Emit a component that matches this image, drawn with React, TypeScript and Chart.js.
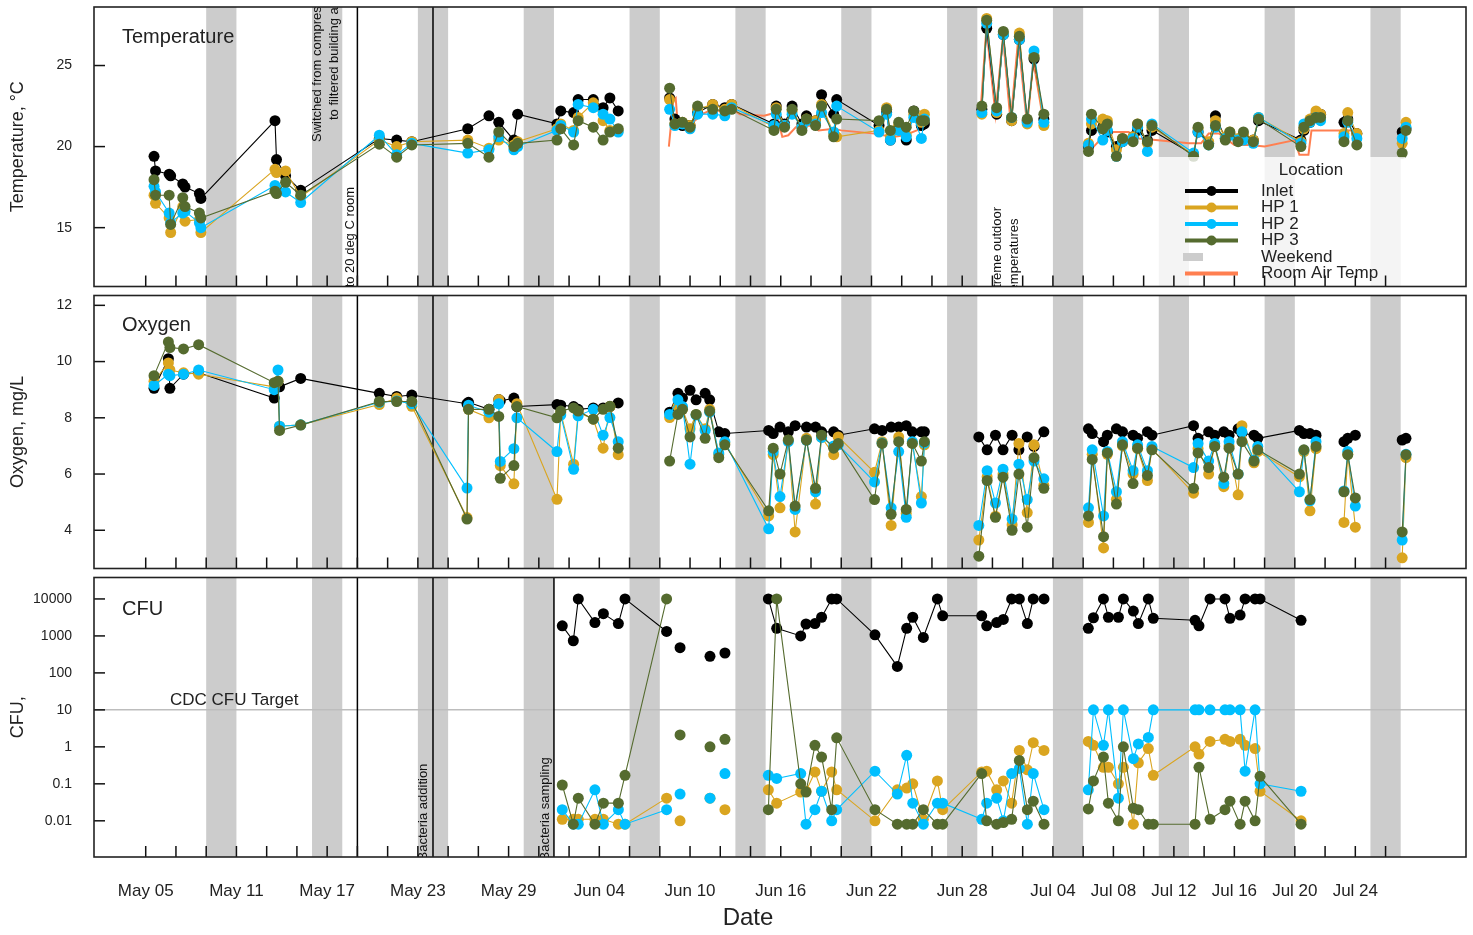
import React, { useEffect, useRef } from "react";
import { Chart, registerables } from "chart.js";
Chart.register(...registerables);

const FONT = "'Liberation Sans', Arial, Helvetica, sans-serif";
const C_INLET = "#000000";
const C_HP1 = "#DAA520";
const C_HP2 = "#00BFFF";
const C_HP3 = "#556B2F";
const C_ROOM = "#FF7F50";
const C_WEEKEND = "#CCCCCC";

// ---------- DATA (day number: May 1 = 1, Jun 1 = 32, Jul 1 = 62) ----------
const seriesNames = ["Inlet", "HP 1", "HP 2", "HP 3"];
const seriesColors = [C_INLET, C_HP1, C_HP2, C_HP3];

const tempDays = [5.55, 5.65, 6.55, 6.65, 7.45, 7.6, 8.55, 8.65, 13.55, 13.65, 14.25, 15.25, 20.45, 21.6, 22.6, 26.3, 27.7, 28.35, 29.35, 29.6, 32.2, 32.45, 33.3, 33.6, 34.6, 35.25, 35.7, 36.25, 38, 39.65, 40.0, 40.5, 41.0, 41.5, 42.5, 43.3, 43.75, 46.55, 46.7, 47.25, 47.75, 48.4, 48.7, 49.3, 49.7, 50.5, 50.7, 53.5, 54.0, 54.25, 54.8, 55.3, 55.8, 56.3, 56.5, 58.5, 60.3, 60.62, 61.28, 61.72, 62.27, 62.78, 63.3, 63.75, 64.4, 66, 67.35, 67.55, 68.3, 68.6, 69.2, 69.6, 70.3, 70.6, 71.25, 71.55, 74.3, 74.6, 75.3, 75.75, 76.4, 76.7, 77.25, 77.6, 78.25, 78.6, 81.4, 81.6, 82.0, 82.4, 82.7, 83.5, 84.25, 84.5, 85.1, 86.5, 88.1, 88.35];
const tempInlet = [19.4, 18.5, 18.3, 18.2, 17.7, 17.5, 17.1, 16.8, 21.6, 19.2, 18.2, 17.3, 20.5, 20.4, 20.3, 21.1, 21.9, 21.5, 20.4, 22.0, 21.4, 22.2, 22.1, 22.9, 22.9, 22.4, 23.0, 22.2, null, 23.0, 21.7, 21.3, 21.3, 22.1, 22.6, 22.4, 22.6, 21.4, 22.5, 21.4, 22.5, 21.4, 21.9, 21.6, 23.2, 22.0, 22.9, 21.3, 22.1, 20.4, 21.2, 20.4, 22.2, 21.3, 21.4, null, 22.3, 27.3, 22.0, 26.9, 21.6, 26.6, 21.6, 25.4, 21.7, null, 20.0, 21.0, 21.2, 20.9, 20.0, 20.3, 20.6, 21.0, 20.4, 21.0, 19.5, 20.9, 20.2, 21.9, 20.5, 20.8, 20.4, 20.6, 20.4, 21.6, 20.4, 21.0, 21.5, 22.0, 22.0, null, 21.5, 21.7, 20.8, null, 20.9, 21.1];
const tempHP1 = [17.0, 16.5, 15.6, 14.7, 16.3, 15.4, 15.5, 14.7, 18.6, 18.4, 18.5, 16.9, 20.4, 20.0, 20.3, 20.4, 19.9, 20.4, 20.1, 20.3, 21.1, 21.4, 21.0, 21.8, 22.7, 21.6, 21.0, 21.0, null, 22.9, 21.4, 21.5, 21.3, 22.3, 22.6, 22.3, 22.6, 21.2, 22.4, 21.3, 22.2, 21.2, 21.7, 21.6, 22.6, 20.8, 20.6, 21.0, 22.4, 20.6, 21.3, 20.7, 22.0, 21.5, 22.0, null, 22.0, 27.9, 22.1, 27.0, 21.6, 27.0, 21.4, 25.6, 21.3, null, 20.2, 21.4, 21.7, 21.6, 19.8, 20.5, 20.6, 21.4, 20.2, 21.2, 19.5, 21.1, 20.3, 21.6, 20.6, 20.9, 20.5, 20.7, 20.4, 21.8, 20.3, 21.1, 21.7, 22.2, 22.0, null, 20.8, 22.1, 20.8, null, 20.2, 21.5];
const tempHP2 = [17.55, 17.2, 15.9, 15.3, 15.9, 16.0, 15.3, 15.0, 17.6, 17.4, 17.2, 16.55, 20.7, 19.5, 20.2, 19.6, 19.8, 20.6, 19.8, 20.0, 21.0, 21.3, 20.9, 22.6, 22.4, 22.0, 21.7, 20.9, null, 22.3, 21.3, 21.4, 21.1, 22.0, 22.0, 21.9, 22.4, 21.3, 22.0, 21.3, 22.0, 21.2, 21.6, 21.4, 22.1, 20.9, 22.5, 20.9, 22.0, 20.4, 21.0, 20.6, 21.8, 20.5, 21.7, null, 22.1, 27.6, 22.2, 26.9, 21.8, 26.6, 21.5, 25.9, 21.5, null, 20.1, 21.7, 20.4, 21.0, 19.4, 20.3, 20.5, 21.2, 19.7, 21.4, 19.6, 20.9, 20.1, 21.2, 20.5, 20.7, 20.4, 20.4, 20.2, 21.8, 20.2, 21.4, 21.5, 21.8, 21.6, null, 20.6, 21.5, 20.5, null, 20.5, 21.2];
const tempHP3 = [17.96, 17.0, 17.0, 15.2, 16.85, 16.3, 15.9, 15.6, 17.25, 17.1, 17.8, 17.0, 20.15, 19.35, 20.1, 20.2, 19.35, 20.9, 20.0, 20.2, 20.4, 21.1, 20.1, 21.6, 21.2, 20.4, 20.9, 21.1, null, 23.6, 21.4, 21.5, 21.2, 22.5, 22.3, 22.2, 22.3, 21.0, 22.3, 21.2, 22.3, 21.0, 21.7, 21.3, 22.5, 20.6, 21.7, 21.6, 22.3, 21.0, 21.5, 21.2, 22.2, 21.6, 21.6, null, 22.5, 27.8, 22.4, 27.1, 21.8, 26.8, 21.7, 25.5, 22.0, null, 19.7, 22.0, 21.1, 21.4, 19.4, 20.5, 20.3, 21.4, 20.3, 21.3, 19.4, 21.2, 20.1, 21.3, 20.4, 20.9, 20.3, 20.9, 20.3, 21.7, 20.0, 21.2, 21.6, 21.8, 21.8, null, 20.3, 21.6, 20.1, null, 19.6, 21.0];

const roomAirDays = [39.6, 39.9, 40.05, 40.2, 40.6, 41.2, 41.8, 42.5, 43.3, 43.8, 44.3, 45.9, 46.7, 47.1, 47.5, 48.0, 49.0, 49.5, 50.5, 51.0, 53.2, 53.8, 54.5, 55.2, 56.0, 56.5, 58.5, 60.2, 60.6, 61.2, 61.7, 62.2, 62.7, 63.3, 63.7, 64.4, 66, 67.3, 67.7, 68.0, 69.0, 70.0, 70.7, 71.8, 74.0, 74.8, 75.3, 76.0, 77.0, 78.0, 79.0, 81.0, 81.3, 81.9, 82.1, 84.5, 85.2, 86.5, 88.0, 88.4];
const roomAirTemp = [20.0, 22.9, 23.0, 21.2, 21.6, 21.5, 22.0, 22.3, 22.1, 22.3, 22.0, 21.9, 22.1, 20.6, 20.7, 21.2, 21.3, 21.0, 21.1, 21.0, 20.8, 20.7, 20.6, 20.7, 21.0, 21.2, null, 22.0, 27.3, 22.0, 26.8, 21.5, 26.6, 21.3, 25.3, 21.4, null, 20.0, 20.0, 20.3, 20.9, 20.9, 20.5, 20.4, 20.2, 20.2, 20.8, 20.8, 20.1, 20.1, 20.0, 20.4, 19.5, 19.5, 21.0, 21.0, 21.0, null, 20.4, 20.4];

const oxyDays = [5.55, 6.5, 6.6, 7.5, 8.5, 13.5, 13.75, 13.85, 15.25, 20.45, 21.6, 22.6, 26.25, 26.35, 27.7, 28.35, 28.45, 29.35, 29.55, 32.2, 32.45, 33.3, 33.6, 34.6, 35.25, 35.7, 36.25, 38, 39.65, 40.2, 40.5, 41.0, 41.4, 42.0, 42.3, 42.9, 43.3, 46.2, 46.5, 46.95, 47.5, 47.95, 48.7, 49.3, 49.7, 50.5, 50.8, 53.2, 53.7, 54.3, 54.8, 55.3, 55.7, 56.3, 56.5, 58.5, 60.1, 60.65, 61.2, 61.7, 62.3, 62.75, 63.3, 63.75, 64.4, 66, 67.35, 67.6, 68.35, 68.6, 69.2, 69.6, 70.3, 70.6, 71.25, 71.55, 74.3, 74.6, 75.3, 75.7, 76.3, 76.65, 77.25, 77.5, 78.3, 78.55, 81.3, 81.6, 82.0, 82.4, 83.5, 84.25, 84.5, 85.0, 86.5, 88.1, 88.35];
const oxyInlet = [9.05, 10.1, 9.05, 9.55, 9.6, 8.7, 9.1, 9.1, 9.4, 8.87, 8.76, 8.81, 8.5, 8.55, 8.3, 8.65, 8.6, 8.7, 8.4, 8.47, 8.45, 8.4, 8.3, 8.35, 8.35, 8.4, 8.53, null, 8.2, 8.87, 8.7, 8.98, 8.64, 8.87, 8.64, 7.5, 7.44, 7.55, 7.44, 7.67, 7.5, 7.72, 7.67, 7.67, 7.5, 7.5, 7.38, 7.61, 7.55, 7.67, 7.67, 7.72, 7.5, 7.5, 7.5, null, 7.32, 6.86, 7.38, 6.86, 7.38, 6.86, 7.32, 6.98, 7.5, null, 7.61, 7.44, 7.15, 7.38, 7.61, 7.5, 7.38, 7.27, 7.5, 7.38, 7.72, 7.27, 7.5, 7.38, 7.5, 7.38, 7.61, 7.45, 7.38, 7.27, 7.55, 7.44, 7.44, 7.38, null, 7.15, 7.27, 7.38, null, 7.21, 7.27];
const oxyHP1 = [9.3, 9.95, 9.7, 9.6, 9.55, 9.1, 9.3, 7.7, 7.75, 8.47, 8.7, 8.41, 4.45, 8.3, 8.0, 8.65, 6.3, 5.65, 8.5, 5.1, 8.18, 6.35, 8.2, 7.95, 6.92, 8.4, 6.69, null, 8.01, 8.4, 8.3, 7.61, 8.12, 7.61, 8.3, 6.7, 7.1, 4.51, 6.69, 4.8, 7.2, 3.94, 7.27, 4.93, 7.3, 6.69, 7.32, 6.06, 7.15, 4.17, 7.32, 4.6, 7.1, 5.2, 7.04, null, 3.65, 5.9, 4.5, 6.0, 4.2, 7.09, 4.63, 7.04, 5.6, null, 4.28, 6.7, 3.37, 6.7, 5.1, 7.0, 6.0, 6.9, 5.77, 6.9, 5.32, 6.9, 6.0, 7.0, 5.55, 7.0, 5.26, 7.72, 6.4, 6.8, 5.9, 6.8, 4.69, 6.9, null, 4.28, 6.7, 4.11, null, 3.02, 6.58];
const oxyHP2 = [9.15, 9.55, 9.5, 9.55, 9.7, 9.0, 9.7, 7.7, 7.75, 8.55, 8.6, 8.5, 5.5, 8.45, 8.2, 8.5, 6.45, 6.9, 8.0, 6.8, 8.1, 6.17, 8.07, 8.3, 7.38, 8.01, 7.15, null, 8.12, 8.64, 8.4, 6.35, 8.1, 7.55, 8.2, 6.75, 7.15, 4.05, 6.8, 5.2, 7.15, 4.74, 7.2, 5.37, 7.3, 7.0, 7.04, 5.72, 7.1, 4.8, 6.8, 4.46, 7.15, 4.97, 7.1, null, 4.17, 6.12, 4.97, 6.17, 4.4, 6.35, 5.09, 6.46, 5.83, null, 4.8, 6.86, 4.51, 6.8, 5.37, 7.15, 6.12, 7.04, 6.12, 6.98, 6.23, 7.09, 6.46, 7.09, 5.66, 7.15, 6.0, 7.5, 6.5, 6.98, 5.37, 6.85, 5.05, 7.15, null, 5.4, 6.8, 4.86, null, 3.65, 6.7];
const oxyHP3 = [9.5, 10.7, 10.5, 10.45, 10.6, 9.25, 9.3, 7.55, 7.74, 8.58, 8.58, 8.58, 4.4, 8.3, 8.3, 8.05, 5.85, 6.3, 8.4, 8.0, 8.24, 8.35, 8.24, 7.95, 8.3, 8.41, 6.92, null, 6.46, 8.12, 8.3, 7.32, 8.12, 7.27, 8.24, 6.58, 7.04, 4.69, 6.92, 6.0, 7.21, 4.86, 7.21, 5.49, 7.38, 6.92, 7.09, 5.09, 7.09, 4.57, 7.15, 4.74, 7.09, 6.46, 7.15, null, 3.08, 5.77, 4.46, 5.89, 4.0, 6.0, 4.11, 6.58, 5.49, null, 4.51, 6.52, 3.77, 6.75, 4.93, 7.04, 5.66, 6.92, 5.95, 6.86, 5.49, 6.75, 6.23, 6.98, 5.89, 6.92, 6.0, 7.15, 6.46, 6.86, 6.0, 6.86, 5.09, 6.98, null, 5.37, 6.69, 5.15, null, 3.94, 6.69];

const cfuDays = [32.55, 33.28, 33.61, 34.71, 35.27, 36.26, 36.7, 39.45, 39.9, 40.34, 41.3, 42.32, 42.8, 43.31, 45, 46.18, 46.73, 48.32, 48.67, 49.26, 49.7, 50.37, 50.7, 53.23, 54.71, 55.33, 55.73, 56.43, 57.36, 57.71, 60.29, 60.62, 61.28, 61.72, 62.27, 62.78, 63.31, 63.7, 64.41, 66, 67.34, 67.68, 68.34, 68.67, 69.33, 69.66, 70.32, 70.65, 71.31, 71.64, 74.4, 74.66, 75.39, 76.38, 76.71, 77.38, 77.71, 78.37, 78.7, 81.41];
const cfuInlet = [1870, 740, 10000, 2300, 4000, 2150, 10000, 1320, null, 480, null, 280, null, 345, null, 10000, 1600, 1000, 2100, 2150, 3200, 10000, 10000, 1070, 150, 1600, 3200, 910, 10000, 3500, 3500, 1870, 2300, 2800, 10000, 10000, 2150, 10000, 10000, null, 1600, 3100, 10000, 3200, 3200, 10000, 4700, 2150, 10000, 3000, 2650, 1870, 10000, 10000, 3000, 3650, 10000, 10000, 10000, 2650];
const cfuHP1 = [0.011, 0.011, 0.011, 0.011, 0.011, 0.0081, 0.0081, 0.041, null, 0.01, null, 0.041, null, 0.02, null, 0.069, 0.03, 0.06, 0.063, 0.21, 0.063, 0.21, 0.069, 0.01, 0.069, 0.077, 0.1, 0.011, 0.12, 0.02, 0.21, 0.22, 0.069, 0.12, 0.03, 0.8, 0.24, 1.3, 0.8, null, 1.4, 1.1, 0.28, 0.28, 0.1, 0.28, 0.0081, 0.37, 0.9, 0.17, 1.0, 0.64, 1.4, 1.6, 1.4, 1.6, 1.1, 0.9, 0.063, 0.01];
const cfuHP2 = [0.02, 0.0081, 0.0081, 0.069, 0.0081, 0.02, 0.0081, 0.02, null, 0.053, null, 0.041, null, 0.19, null, 0.17, 0.14, 0.19, 0.0081, 0.02, 0.063, 0.01, 0.02, 0.22, 0.053, 0.59, 0.03, 0.0081, 0.03, 0.03, 0.011, 0.03, 0.041, 0.01, 0.19, 0.26, 0.0081, 0.19, 0.02, null, 0.069, 10, 1.1, 10, 0.041, 10, 0.48, 1.2, 1.8, 10, 10, 10, 10, 10, 10, 10, 0.22, 10, 0.1, 0.063];
const cfuHP3 = [0.093, 0.0081, 0.041, 0.0081, 0.03, 0.03, 0.17, 10000, null, 2.1, null, 1.0, null, 1.6, null, 0.02, 10000, 0.1, 0.06, 1.1, 0.53, 0.02, 1.75, 0.02, 0.0081, 0.0081, 0.0081, 0.02, 0.0081, 0.0081, 0.19, 0.01, 0.0081, 0.009, 0.011, 0.43, 0.02, 0.034, 0.0081, null, 0.021, 0.12, 0.53, 0.03, 0.01, 1.0, 0.022, 0.02, 0.0081, 0.0081, 0.0081, 0.28, 0.011, 0.02, 0.034, 0.0081, 0.034, 0.01, 0.16, 0.0081];

const weekendStarts = [9, 16, 23, 30, 37, 44, 51, 58, 65, 72, 79, 86];
const eventDaysAll = [19, 24];
const eventDaysCfu = [32];
const xLabelDays = [5, 11, 17, 23, 29, 35, 41, 47, 53, 59, 65, 69, 73, 77, 81, 85];
const xMinorTickDays = [5, 7, 9, 11, 13, 15, 17, 19, 21, 23, 25, 27, 29, 31, 33, 35, 37, 39, 41, 43, 45, 47, 49, 51, 53, 55, 57, 59, 61, 63, 65, 67, 69, 71, 73, 75, 77, 79, 81, 83, 85, 87];
const tempTicks = [15, 20, 25];
const oxyTicks = [4, 6, 8, 10, 12];
const cfuTicks = [0.01, 0.1, 1, 10, 100, 1000, 10000];
const cfuTarget = 10;

const X_MIN = 1.58;
const X_MAX = 92.32;

function dayLabel(d: number) {
  let m = "May";
  let off = 0;
  if (d > 61) { m = "Jul"; off = 61; } else if (d > 31) { m = "Jun"; off = 31; }
  const n = Math.round(d - off);
  return m + " " + String(n).padStart(2, "0");
}

function buildDatasets(days: number[], arrays: (number | null)[][]) {
  return arrays.map((vals, i) => ({
    label: seriesNames[i],
    data: days.map((d, j) => ({ x: d, y: vals[j] })),
    borderColor: seriesColors[i],
    backgroundColor: seriesColors[i],
    pointBackgroundColor: seriesColors[i],
    pointBorderColor: seriesColors[i],
    pointBorderWidth: 0,
    pointRadius: 5.5,
    pointHoverRadius: 5.5,
    borderWidth: 1.1,
    spanGaps: false,
    order: 4 - i,
  }));
}

function yAxis(title: string, ticksArr: number[], min: number, max: number, type = "linear") {
  return {
    type,
    position: "left",
    min,
    max,
    grid: { display: false, drawTicks: false, tickLength: 0 },
    border: { display: false },
    title: { display: true, text: title, color: "#222", font: { family: FONT, size: 18 }, padding: { top: 7, bottom: 0 } },
    ticks: { color: "#222", font: { family: FONT, size: 14 }, padding: 22, autoSkip: false, callback: (v: any) => String(v) },
    afterBuildTicks: (s: any) => { s.ticks = ticksArr.map((v) => ({ value: v })); },
    afterFit: (s: any) => { s.width = 94; s.paddingTop = 0; s.paddingBottom = 0; },
  };
}

type Ann = { text: string; day: number; off: number };

function vText(ctx: CanvasRenderingContext2D, text: string, x: number, y: number, font: string) {
  ctx.save();
  ctx.translate(x, y);
  ctx.rotate(-Math.PI / 2);
  ctx.font = font;
  ctx.textAlign = "left";
  ctx.textBaseline = "middle";
  ctx.fillStyle = "#111";
  ctx.fillText(text, 0, 0);
  ctx.restore();
}

function makePanelPlugin(cfg: { title: string; titleBase: number; events: number[]; target?: number; anns: Ann[]; legend?: boolean; dateTitle?: boolean; cdcLabel?: string }) {
  return {
    id: "panelDecor",
    beforeDatasetsDraw(chart: any) {
      const { ctx, chartArea: a } = chart;
      const xs = chart.scales.x;
      const ys = chart.scales.y;
      ctx.save();
      ctx.beginPath();
      ctx.rect(a.left, a.top, a.right - a.left, a.bottom - a.top);
      ctx.clip();
      ctx.fillStyle = C_WEEKEND;
      for (const d of weekendStarts) {
        const x0 = xs.getPixelForValue(d);
        const x1 = xs.getPixelForValue(d + 2);
        ctx.fillRect(x0, a.top, x1 - x0, a.bottom - a.top);
      }
      if (cfg.target != null) {
        const y = ys.getPixelForValue(cfg.target);
        ctx.strokeStyle = "#BDBDBD";
        ctx.lineWidth = 1.5;
        ctx.beginPath();
        ctx.moveTo(a.left, y);
        ctx.lineTo(a.right, y);
        ctx.stroke();
      }
      ctx.strokeStyle = "#000";
      ctx.lineWidth = 1.5;
      for (const d of cfg.events) {
        const x = xs.getPixelForValue(d);
        ctx.beginPath();
        ctx.moveTo(x, a.top);
        ctx.lineTo(x, a.bottom);
        ctx.stroke();
      }
      if (cfg.cdcLabel) {
        const y = ys.getPixelForValue(cfg.target);
        ctx.font = `17px ${FONT}`;
        ctx.fillStyle = "#222";
        ctx.textAlign = "left";
        ctx.textBaseline = "alphabetic";
        ctx.fillText(cfg.cdcLabel, a.left + 76, y - 5);
      }
      ctx.restore();
    },
    afterDraw(chart: any) {
      const { ctx, chartArea: a } = chart;
      const xs = chart.scales.x;
      const ys = chart.scales.y;
      ctx.save();
      ctx.beginPath();
      ctx.rect(a.left, a.top, a.right - a.left, a.bottom - a.top);
      ctx.clip();
      for (const an of cfg.anns) {
        vText(ctx, an.text, xs.getPixelForValue(an.day), a.top + an.off, `13px ${FONT}`);
      }
      ctx.restore();

      ctx.save();
      ctx.font = `20px ${FONT}`;
      ctx.fillStyle = "#222";
      ctx.textAlign = "left";
      ctx.textBaseline = "alphabetic";
      ctx.fillText(cfg.title, a.left + 28, a.top + cfg.titleBase);

      if (cfg.legend) {
        const lx0 = a.right - 316;
        const lx1 = a.right - 61;
        const ly0 = a.top + 150;
        ctx.fillStyle = "rgba(255,255,255,0.78)";
        ctx.fillRect(lx0, ly0, lx1 - lx0, a.bottom - ly0);
        ctx.fillStyle = "#222";
        ctx.font = `17px ${FONT}`;
        ctx.textAlign = "center";
        ctx.textBaseline = "middle";
        ctx.fillText("Location", lx0 + 161, ly0 + 13);
        const rows = [...seriesNames.map((n, i) => ({ n, c: seriesColors[i], k: "pt" })), { n: "Weekend", c: C_WEEKEND, k: "box" }, { n: "Room Air Temp", c: C_ROOM, k: "line" }];
        rows.forEach((r, i) => {
          const y = ly0 + 34 + i * 16.5;
          const sx0 = lx0 + 35;
          const sx1 = lx0 + 88;
          if (r.k === "box") {
            ctx.fillStyle = r.c;
            ctx.fillRect(sx0 - 2, y - 4, 20, 8);
          } else {
            ctx.strokeStyle = r.c;
            ctx.lineWidth = 4;
            ctx.beginPath();
            ctx.moveTo(sx0, y);
            ctx.lineTo(sx1, y);
            ctx.stroke();
            if (r.k === "pt") {
              ctx.fillStyle = r.c;
              ctx.beginPath();
              ctx.arc((sx0 + sx1) / 2, y, 5, 0, Math.PI * 2);
              ctx.fill();
            }
          }
          ctx.fillStyle = "#222";
          ctx.textAlign = "left";
          ctx.fillText(r.n, lx0 + 111, y);
        });
      }

      ctx.strokeStyle = "#111";
      ctx.lineWidth = 1.5;
      for (const t of ys.ticks) {
        const y = ys.getPixelForValue(t.value);
        ctx.beginPath();
        ctx.moveTo(a.left, y);
        ctx.lineTo(a.left + 11, y);
        ctx.stroke();
      }
      for (const d of xMinorTickDays) {
        const x = xs.getPixelForValue(d);
        ctx.beginPath();
        ctx.moveTo(x, a.bottom);
        ctx.lineTo(x, a.bottom - 11);
        ctx.stroke();
      }
      ctx.strokeStyle = "#222";
      ctx.lineWidth = 1.6;
      ctx.strokeRect(a.left, a.top, a.right - a.left, a.bottom - a.top);

      if (cfg.dateTitle) {
        ctx.fillStyle = "#222";
        ctx.font = `24px ${FONT}`;
        ctx.textAlign = "center";
        ctx.textBaseline = "middle";
        ctx.fillText("Date", (a.left + a.right) / 2 - 32, a.bottom + 61);
      }
      ctx.restore();
    },
  };
}

function hiddenX() {
  return { type: "linear", display: false, min: X_MIN, max: X_MAX };
}

function baseOptions(padding: any, scales: any) {
  return {
    responsive: false,
    animation: false,
    devicePixelRatio: 1,
    events: [],
    layout: { padding },
    plugins: { legend: { display: false }, tooltip: { enabled: false } },
    scales,
  };
}

export default function App() {
  const r1 = useRef<HTMLCanvasElement>(null);
  const r2 = useRef<HTMLCanvasElement>(null);
  const r3 = useRef<HTMLCanvasElement>(null);

  useEffect(() => {
    const tempSets: any[] = buildDatasets(tempDays, [tempInlet, tempHP1, tempHP2, tempHP3]);
    tempSets.push({
      label: "Room Air Temp",
      data: roomAirDays.map((d, j) => ({ x: d, y: roomAirTemp[j] })),
      borderColor: C_ROOM,
      backgroundColor: C_ROOM,
      pointRadius: 0,
      borderWidth: 2,
      spanGaps: false,
      order: 5,
    });

    const c1 = new Chart(r1.current as HTMLCanvasElement, {
      type: "line",
      data: { datasets: tempSets },
      options: baseOptions({ top: 7, bottom: 2, left: 0, right: 7 }, {
        x: hiddenX(),
        y: yAxis("Temperature, \u00B0C", tempTicks, 11.37, 28.61),
      }) as any,
      plugins: [makePanelPlugin({
        title: "Temperature",
        titleBase: 36,
        events: eventDaysAll,
        legend: true,
        anns: [
          { text: "Switched from compressed air", day: 16.33, off: 135 },
          { text: "to filtered building air", day: 17.51, off: 113 },
          { text: "Moved to 20 deg C room", day: 18.57, off: 323 },
          { text: "Extreme outdoor", day: 61.3, off: 296 },
          { text: "temperatures", day: 62.43, off: 288 },
        ],
      })],
    } as any);

    const c2 = new Chart(r2.current as HTMLCanvasElement, {
      type: "line",
      data: { datasets: buildDatasets(oxyDays, [oxyInlet, oxyHP1, oxyHP2, oxyHP3]) as any },
      options: baseOptions({ top: 0, bottom: 2, left: 0, right: 7 }, {
        x: hiddenX(),
        y: yAxis("Oxygen, mg/L", oxyTicks, 2.64, 12.35),
      }) as any,
      plugins: [makePanelPlugin({ title: "Oxygen", titleBase: 35, events: eventDaysAll, anns: [] })],
    } as any);

    const c3 = new Chart(r3.current as HTMLCanvasElement, {
      type: "line",
      data: { datasets: buildDatasets(cfuDays, [cfuInlet, cfuHP1, cfuHP2, cfuHP3]) as any },
      options: baseOptions({ top: 0, bottom: 0, left: 0, right: 7 }, {
        x: {
          type: "linear",
          position: "bottom",
          min: X_MIN,
          max: X_MAX,
          grid: { display: false, drawTicks: false, tickLength: 0 },
          border: { display: false },
          ticks: { color: "#222", font: { family: FONT, size: 17 }, padding: 24, autoSkip: false, maxRotation: 0, minRotation: 0, callback: (v: any) => dayLabel(Number(v)) },
          afterBuildTicks: (s: any) => { s.ticks = xLabelDays.map((v) => ({ value: v })); },
          afterFit: (s: any) => { s.height = 78; s.paddingLeft = 0; s.paddingRight = 0; },
        },
        y: yAxis("CFU,", cfuTicks, 0.00105, 38000, "logarithmic"),
      }) as any,
      plugins: [makePanelPlugin({
        title: "CFU",
        titleBase: 37,
        events: [...eventDaysAll, ...eventDaysCfu],
        target: cfuTarget,
        cdcLabel: "CDC CFU Target",
        dateTitle: true,
        anns: [
          { text: "Bacteria addition", day: 23.4, off: 283 },
          { text: "Bacteria sampling", day: 31.45, off: 283 },
        ],
      })],
    } as any);

    return () => {
      c1.destroy();
      c2.destroy();
      c3.destroy();
    };
  }, []);

  return (
    <div style={{ position: "absolute", left: 0, top: 0, width: 1473, height: 935, background: "#fff", overflow: "hidden" }}>
      <canvas ref={r1} width={1473} height={292} style={{ position: "absolute", left: 0, top: 0 }} />
      <canvas ref={r2} width={1473} height={284} style={{ position: "absolute", left: 0, top: 290 }} />
      <canvas ref={r3} width={1473} height={363} style={{ position: "absolute", left: 0, top: 572 }} />
    </div>
  );
}
